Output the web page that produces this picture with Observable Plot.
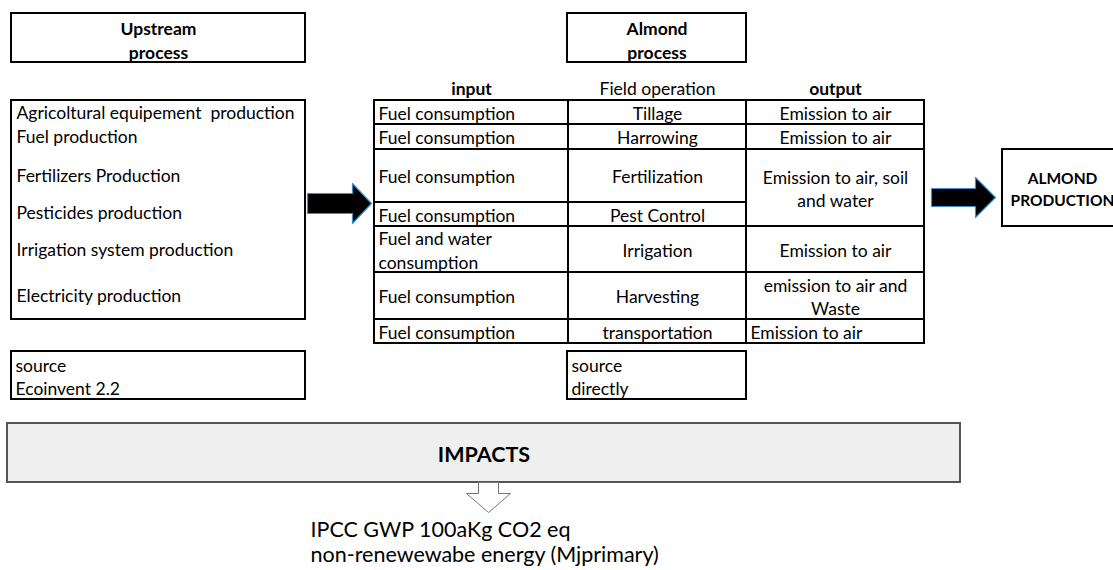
<!DOCTYPE html>
<html><head><meta charset="utf-8">
<script src="https://cdn.jsdelivr.net/npm/d3@7"></script>
<script src="https://cdn.jsdelivr.net/npm/@observablehq/plot@0.6"></script>
<style>body{margin:0;background:#fff;overflow:hidden}</style>
</head><body><div id="chart"></div>
<script>
// ---------- content ----------
const upstreamTitle = "Upstream\nprocess";
const almondTitle = "Almond\nprocess";
const upstreamItems = ["Agricoltural equipement  production","Fuel production","Fertilizers Production","Pesticides production","Irrigation system production","Electricity production"];
const columnHeaders = ["input","Field operation","output"];
const headerBold = [true,false,true];
const inputs = ["Fuel consumption","Fuel consumption","Fuel consumption","Fuel consumption","Fuel and water\nconsumption","Fuel consumption","Fuel consumption"];
const operations = ["Tillage","Harrowing","Fertilization","Pest Control","Irrigation","Harvesting","transportation"];
const outputs = ["Emission to air","Emission to air","Emission to air, soil\nand water","Emission to air","emission to air and\nWaste","Emission to air"];
const outputSpans = [1,1,2,1,1,1];
const productLabel = "ALMOND\nPRODUCTION";
const sources = ["source\nEcoinvent 2.2","source\ndirectly"];
const impactsLabel = "IMPACTS";
const impacts = ["IPCC GWP 100aKg CO2 eq","non-renewewabe energy (Mjprimary)"];

// ---------- layout (diagram geometry) ----------
const W = 1113, H = 570;
const FONT = "Lato, 'Open Sans', 'DejaVu Sans', sans-serif";
const FS = 17.5;
const L = {
  leftCol: [11, 305],
  almondCol: [567, 746],
  titleRow: [13, 62],
  upBox: [100, 319],
  upItemY: [113, 137, 176, 213, 250, 296],
  headerY: 89,
  tableCols: [374, 568, 746, 924],
  rowEdges: [100, 124, 149, 202, 226, 272, 319, 343],
  sourceRow: [351, 399],
  product: {x1: 1002, x2: 1140, y1: 149, y2: 226},
  impacts: {x1: 7, x2: 960, y1: 423, y2: 482},
  impactsTextY: [530, 555],
  impactsTextX: 310,
  arrowLeft: {x0: 307, xh: 352, x1: 371, yc: 203, bh: 10, hh: 20},
  arrowRight: {x0: 931, xh: 975, x1: 995, yc: 197, bh: 9, hh: 20},
  arrowDown: {xc: 488, y0: 482, yh: 493, y1: 512, bw: 10, hw: 22}
};

function rightArrow(a) {
  return [[a.x0,a.yc-a.bh],[a.xh,a.yc-a.bh],[a.xh,a.yc-a.hh],[a.x1,a.yc],[a.xh,a.yc+a.hh],[a.xh,a.yc+a.bh],[a.x0,a.yc+a.bh],[a.x0,a.yc-a.bh]].map(([x,y])=>({x,y}));
}
function downArrow(a) {
  return [[a.xc-a.bw,a.y0],[a.xc+a.bw,a.y0],[a.xc+a.bw,a.yh],[a.xc+a.hw,a.yh],[a.xc,a.y1],[a.xc-a.hw,a.yh],[a.xc-a.bw,a.yh],[a.xc-a.bw,a.y0]].map(([x,y])=>({x,y}));
}

// boxes
const plainBoxes = [
  {x1:L.leftCol[0], x2:L.leftCol[1], y1:L.titleRow[0], y2:L.titleRow[1]},
  {x1:L.almondCol[0], x2:L.almondCol[1], y1:L.titleRow[0], y2:L.titleRow[1]},
  {x1:L.leftCol[0], x2:L.leftCol[1], y1:L.upBox[0], y2:L.upBox[1]},
  {x1:L.leftCol[0], x2:L.leftCol[1], y1:L.sourceRow[0], y2:L.sourceRow[1]},
  {x1:L.almondCol[0], x2:L.almondCol[1], y1:L.sourceRow[0], y2:L.sourceRow[1]},
  L.product
];
// table cells
const R = L.rowEdges, C = L.tableCols;
const cells = [];
const startTexts = [];
const middleTexts = [];
inputs.forEach((t,i)=>{
  cells.push({x1:C[0],x2:C[1],y1:R[i],y2:R[i+1]});
  startTexts.push({text:t, x:C[0]+4, y:(R[i]+R[i+1])/2});
});
operations.forEach((t,i)=>{
  cells.push({x1:C[1],x2:C[2],y1:R[i],y2:R[i+1]});
  middleTexts.push({text:t, x:(C[1]+C[2])/2, y:(R[i]+R[i+1])/2});
});
{
  let r = 0;
  outputs.forEach((t,i)=>{
    const r2 = r + outputSpans[i];
    cells.push({x1:C[2],x2:C[3],y1:R[r],y2:R[r2]});
    const last = i === outputs.length-1;
    const d = {text:t, x: last ? C[2]+4 : (C[2]+C[3])/2, y:(R[r]+R[r2])/2};
    (last ? startTexts : middleTexts).push(d);
    r = r2;
  });
}
const headers = columnHeaders.map((t,i)=>({text:t, x:(C[i]+C[i+1])/2, y:L.headerY, bold:headerBold[i]}));
const upItems = upstreamItems.map((t,i)=>({text:t, x:L.leftCol[0]+5, y:L.upItemY[i]}));
const titles = [
  {text:upstreamTitle, x:(L.leftCol[0]+L.leftCol[1])/2, y:(L.titleRow[0]+L.titleRow[1])/2 + 1},
  {text:almondTitle, x:(L.almondCol[0]+L.almondCol[1])/2, y:(L.titleRow[0]+L.titleRow[1])/2 + 1}
];
const sourceTexts = [
  {text:sources[0], x:L.leftCol[0]+4, y:(L.sourceRow[0]+L.sourceRow[1])/2 + 1},
  {text:sources[1], x:L.almondCol[0]+4, y:(L.sourceRow[0]+L.sourceRow[1])/2 + 1}
];
const impactLines = impacts.map((t,i)=>({text:t, x:L.impactsTextX, y:L.impactsTextY[i]}));

const chart = Plot.plot({
  width: W, height: H, margin: 0,
  x: {domain:[0,W], range:[0,W], axis:null},
  y: {domain:[0,H], range:[0,H], axis:null},
  style: {fontFamily: FONT, background: "white", color: "black"},
  marks: [
    Plot.rect([L.impacts], {x1:"x1",x2:"x2",y1:"y1",y2:"y2", fill:"#efefef", stroke:"#555", strokeWidth:2}),
    Plot.rect(plainBoxes, {x1:"x1",x2:"x2",y1:"y1",y2:"y2", fill:"white", stroke:"black", strokeWidth:2}),
    Plot.rect(cells, {x1:"x1",x2:"x2",y1:"y1",y2:"y2", fill:"none", stroke:"black", strokeWidth:2}),
    Plot.line(rightArrow(L.arrowLeft), {x:"x", y:"y", fill:"black", stroke:"#3a8fd0", strokeWidth:1.2, curve:"linear"}),
    Plot.line(rightArrow(L.arrowRight), {x:"x", y:"y", fill:"black", stroke:"#3a8fd0", strokeWidth:1.2, curve:"linear"}),
    Plot.line(downArrow(L.arrowDown), {x:"x", y:"y", fill:"white", stroke:"#777", strokeWidth:1, curve:"linear"}),
    Plot.text(titles, {x:"x", y:"y", text:"text", fontSize:FS, fontWeight:"bold", lineHeight:1.37, fill:"black"}),
    Plot.text(upItems, {x:"x", y:"y", text:"text", fontSize:FS, textAnchor:"start", fill:"black"}),
    Plot.text(headers.filter(d=>d.bold), {x:"x", y:"y", text:"text", fontSize:FS, fontWeight:"bold", fill:"black"}),
    Plot.text(headers.filter(d=>!d.bold), {x:"x", y:"y", text:"text", fontSize:FS, fill:"black"}),
    Plot.text(startTexts, {x:"x", y:"y", text:"text", fontSize:FS, textAnchor:"start", lineHeight:1.33, fill:"black"}),
    Plot.text(middleTexts, {x:"x", y:"y", text:"text", fontSize:FS, textAnchor:"middle", lineHeight:1.33, fill:"black"}),
    Plot.text([{text:productLabel, x:1062, y:(L.product.y1+L.product.y2)/2}], {x:"x", y:"y", text:"text", fontSize:15.5, fontWeight:"bold", lineHeight:1.42, fill:"black"}),
    Plot.text(sourceTexts, {x:"x", y:"y", text:"text", fontSize:FS, textAnchor:"start", lineHeight:1.31, fill:"black"}),
    Plot.text([{text:impactsLabel, x:(L.impacts.x1+L.impacts.x2)/2, y:455}], {x:"x", y:"y", text:"text", fontSize:21.5, fontWeight:"bold", fill:"black"}),
    Plot.text(impactLines, {x:"x", y:"y", text:"text", fontSize:21.5, textAnchor:"start", fill:"black"})
  ]
});
document.getElementById("chart").appendChild(chart);
</script>
</body></html>
